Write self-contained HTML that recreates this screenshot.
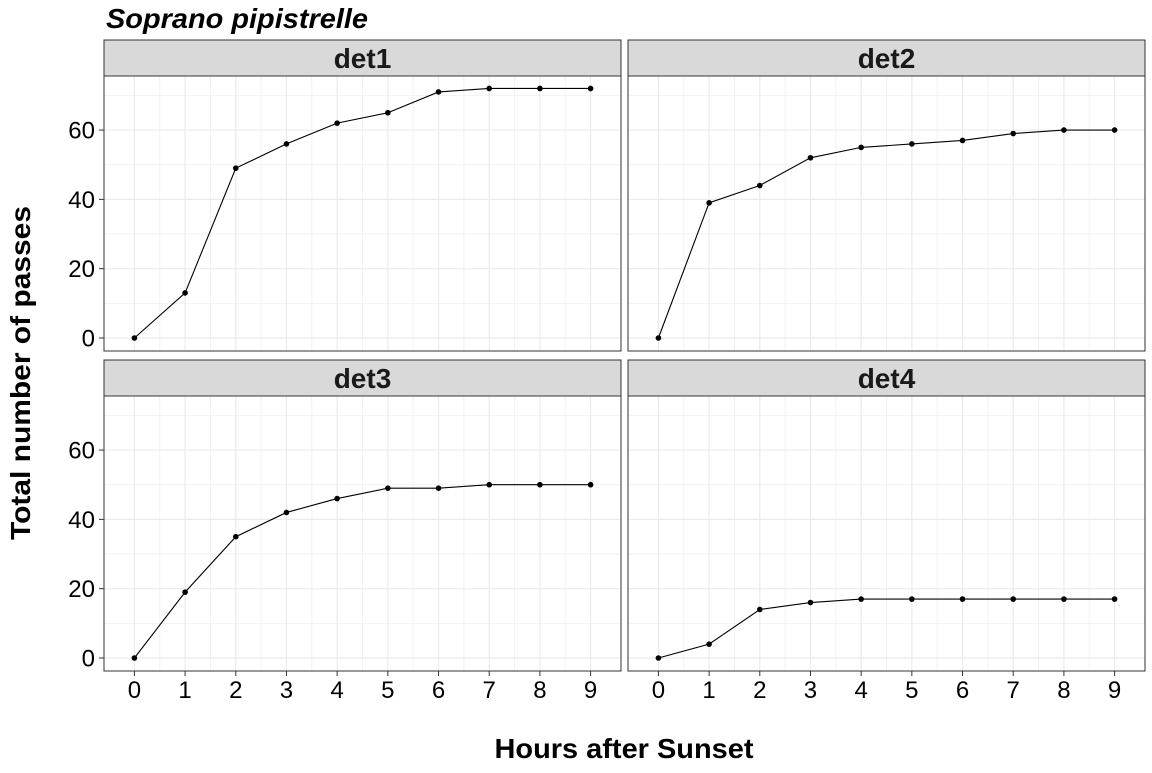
<!DOCTYPE html>
<html><head><meta charset="utf-8"><style>
body{margin:0;background:#fff;font-family:"Liberation Sans",Arial,sans-serif}
</style></head><body>
<svg id="chart" width="1152" height="768" xmlns="http://www.w3.org/2000/svg" font-family="Liberation Sans, Arial, sans-serif">
<text x="106" y="28" font-size="28" font-weight="bold" font-style="italic" textLength="262" lengthAdjust="spacingAndGlyphs">Soprano pipistrelle</text>
<text x="624" y="758" font-size="28" font-weight="bold" text-anchor="middle" textLength="259" lengthAdjust="spacingAndGlyphs">Hours after Sunset</text>
<text transform="translate(30,373) rotate(-90)" font-size="28" font-weight="bold" text-anchor="middle" textLength="334" lengthAdjust="spacingAndGlyphs">Total number of passes</text>
<g id="panels"></g>
</svg>
<script>
const hours=[0,1,2,3,4,5,6,7,8,9];
const det1=[0,13,49,56,62,65,71,72,72,72];
const det2=[0,39,44,52,55,56,57,59,60,60];
const det3=[0,19,35,42,46,49,49,50,50,50];
const det4=[0,4,14,16,17,17,17,17,17,17];
const yTicks=[0,20,40,60];
const xTicks=[0,1,2,3,4,5,6,7,8,9];
const panelNames=["det1","det2","det3","det4"];
const series=[det1,det2,det3,det4];
const NS="http://www.w3.org/2000/svg";
const g=document.getElementById("panels");
function el(t,a,p){const e=document.createElementNS(NS,t);for(const k in a)e.setAttribute(k,a[k]);(p||g).appendChild(e);return e;}
const yMin=-3.75,yMax=75.6,xMin=-0.6,xMax=9.6;
const lay=[{x:104,y:76},{x:628,y:76},{x:104,y:396},{x:628,y:396}];
const W=517,H=275;
for(let i=0;i<4;i++){
 const L=lay[i];
 const sx=v=>L.x+(v-xMin)/(xMax-xMin)*W;
 const sy=v=>L.y+H-(v-yMin)/(yMax-yMin)*H;
 const pg=el("g",{});
 
 
 for(let v=10;v<=70;v+=20)el("line",{x1:L.x,x2:L.x+W,y1:sy(v),y2:sy(v),stroke:"#f2f2f2","stroke-width":1},pg);
 for(let v=0.5;v<9;v+=1)el("line",{y1:L.y,y2:L.y+H,x1:sx(v),x2:sx(v),stroke:"#f2f2f2","stroke-width":1},pg);
 yTicks.forEach(v=>el("line",{x1:L.x,x2:L.x+W,y1:sy(v),y2:sy(v),stroke:"#ebebeb","stroke-width":1.2},pg));
 xTicks.forEach(v=>el("line",{y1:L.y,y2:L.y+H,x1:sx(v),x2:sx(v),stroke:"#ebebeb","stroke-width":1.2},pg));
 el("rect",{x:L.x,y:L.y,width:W,height:H,fill:"none",stroke:"#333","stroke-width":1},pg);
 el("rect",{x:L.x,y:L.y-36,width:W,height:36,fill:"#d9d9d9",stroke:"#333","stroke-width":1},pg);
 const st=el("text",{x:L.x+W/2,y:L.y-8,"font-size":28,"font-weight":"bold","text-anchor":"middle",fill:"#1a1a1a"},pg);
 st.textContent=panelNames[i];
 
 
 if(i%2===0){yTicks.forEach(v=>{el("line",{x1:L.x-5,x2:L.x,y1:sy(v),y2:sy(v),stroke:"#333"},pg);
  const t=el("text",{x:L.x-9,y:sy(v)+8.5,"font-size":24,"text-anchor":"end",fill:"#000"},pg);t.textContent=v;
  
  });}
 if(i>=2){xTicks.forEach(v=>{el("line",{y1:L.y+H,y2:L.y+H+5,x1:sx(v),x2:sx(v),stroke:"#333"},pg);
  const t=el("text",{x:sx(v),y:L.y+H+27,"font-size":24,"text-anchor":"middle",fill:"#000"},pg);t.textContent=v;
  
  });}
 const d=series[i];
 const ln=el("polyline",{points:hours.map((h,j)=>sx(h)+","+sy(d[j])).join(" "),fill:"none",stroke:"#000","stroke-width":1.1},pg);
 
 
 hours.forEach((h,j)=>{const c=el("circle",{cx:sx(h),cy:sy(d[j]),r:2.8,fill:"#000"},pg);
  
  });
}
</script>
</body></html>
